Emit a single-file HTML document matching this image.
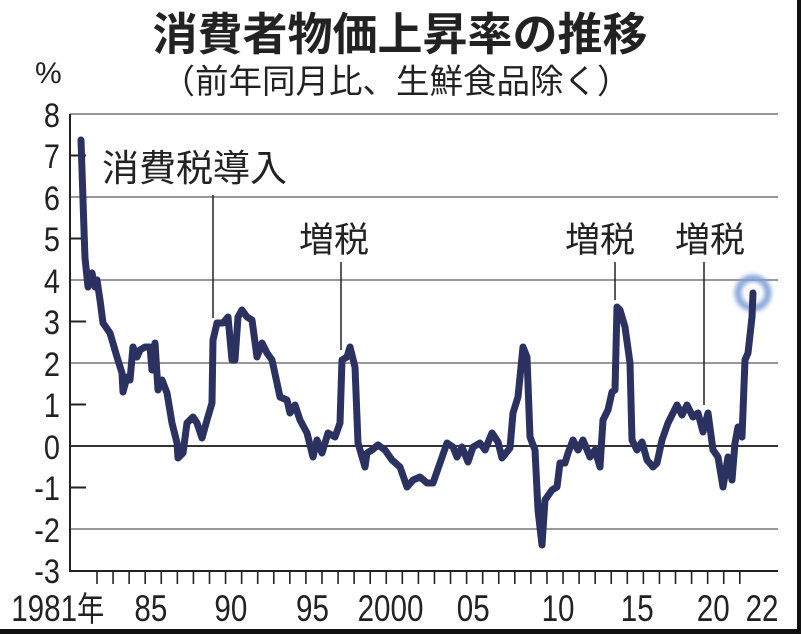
<!DOCTYPE html>
<html><head><meta charset="utf-8"><style>
html,body{margin:0;padding:0;background:#fff;}
svg{display:block;}
text{font-family:"Liberation Sans","Noto Sans CJK JP",sans-serif;fill:#222;}
.j{font-family:"Noto Sans CJK JP",sans-serif;}
</style></head><body>
<svg width="801" height="634" viewBox="0 0 801 634" xmlns="http://www.w3.org/2000/svg">
<defs><filter id="bl" x="-50%" y="-50%" width="200%" height="200%"><feGaussianBlur stdDeviation="2"/></filter></defs>
<rect width="801" height="634" fill="#fff"/>
<rect x="0" y="629" width="801" height="5" fill="#111"/>
<rect x="797" y="0" width="4" height="634" fill="#111"/>
<text class="j" x="400" y="50" text-anchor="middle" font-size="45" font-weight="bold">消費者物価上昇率の推移</text>
<text class="j" x="396" y="93" text-anchor="middle" font-size="33.5">（前年同月比、生鮮食品除く）</text>
<text x="35" y="83" font-size="30">%</text>
<g stroke="#999" stroke-width="2">
<line x1="70" y1="114" x2="778" y2="114"/>
<line x1="70" y1="197" x2="778" y2="197"/>
<line x1="70" y1="280" x2="778" y2="280"/>
<line x1="70" y1="363" x2="778" y2="363"/>
<line x1="70" y1="529" x2="778" y2="529"/>
</g>
<line x1="70" y1="446" x2="778" y2="446" stroke="#333" stroke-width="2"/>
<g stroke="#222" stroke-width="2">
<line x1="70" y1="114" x2="70" y2="572"/>
<line x1="70" y1="571" x2="778" y2="571"/>
<line x1="70" y1="155.5" x2="86" y2="155.5"/><line x1="70" y1="238.5" x2="86" y2="238.5"/>
<line x1="70" y1="321.5" x2="86" y2="321.5"/><line x1="70" y1="404.5" x2="86" y2="404.5"/>
<line x1="70" y1="487.5" x2="86" y2="487.5"/>
</g>
<g stroke="#222" stroke-width="1.6" id="xt"></g>
<g font-size="34" text-anchor="end" transform="translate(60,0) scale(0.85,1)">
<text x="0" y="127">8</text><text x="0" y="168">7</text><text x="0" y="210">6</text><text x="0" y="251">5</text>
<text x="0" y="293">4</text><text x="0" y="334">3</text><text x="0" y="376">2</text><text x="0" y="417">1</text>
<text x="0" y="459">0</text><text x="0" y="500">-1</text><text x="0" y="542">-2</text><text x="0" y="583">-3</text>
</g>
<g font-size="37" transform="scale(0.8,1)">
<text x="14" y="621">1981<tspan class="j" font-size="34">年</tspan></text>
<text x="168" y="621">85</text><text x="268" y="621">90</text><text x="370" y="621">95</text>
<text x="447" y="621">2000</text><text x="571" y="621">05</text><text x="677" y="621">10</text>
<text x="776" y="621">15</text><text x="871" y="621">20</text><text x="932" y="621">22</text>
</g>
<g stroke="#222" stroke-width="1.5">
<line x1="213" y1="195" x2="213" y2="318"/>
<line x1="341" y1="262" x2="341" y2="350"/>
<line x1="615" y1="262" x2="615" y2="300"/>
<line x1="704" y1="262" x2="704" y2="405"/>
</g>
<text class="j" x="102" y="181" font-size="37">消費税導入</text>
<text class="j" x="299" y="252" font-size="35">増税</text>
<text class="j" x="565" y="252" font-size="35">増税</text>
<text class="j" x="675" y="252" font-size="35">増税</text>
<circle cx="753" cy="293" r="15" fill="none" stroke="#7f9fd8" stroke-width="7" filter="url(#bl)" opacity="0.9"/>
<polyline fill="none" stroke="#2b3262" stroke-width="7" stroke-linejoin="round" stroke-linecap="round" points="
81,140 84,230 85,258 88,287 92,273 95,287 97,280 100,300 103,323 110,333 117,357 122,373 123,392 127,377 130,380 133,347 137,357 140,350 145,347 150,347 152,370 155,343 158,390 162,380 167,393 172,423 177,443 178,458 183,453 187,423 193,417 197,423 202,438 207,420 212,403 213,340 217,323 223,323 228,317 232,360 235,360 238,317 242,310 247,317 252,320 257,357 262,343 267,353 272,360 277,383 280,397 287,400 290,413 295,405 300,420 307,433 313,457 317,440 322,453 328,433 335,437 340,423 342,360 347,357 350,347 355,367 358,443 365,467 367,453 372,450 378,445 385,450 392,460 400,467 407,487 413,480 420,477 427,483 433,483 440,463 447,443 453,447 457,457 462,447 468,462 473,447 480,443 485,450 492,433 498,442 502,458 510,448 513,413 518,397 523,347 527,357 530,437 535,450 538,510 542,545 545,500 552,490 557,487 560,463 565,463 568,453 573,440 578,450 583,440 590,457 595,450 600,467 603,420 608,410 612,392 615,390 617,307 620,310 625,327 630,363 632,440 637,450 642,442 647,460 653,467 657,463 662,440 668,423 677,405 682,415 687,405 693,417 698,413 703,432 708,413 713,450 718,457 723,487 728,457 732,480 735,443 738,427 742,437 745,360 748,353 752,317 753,293"/>
</svg>
<script>
var g=document.getElementById('xt'),s='';
for(var i=0;i<=40;i++){var x=97+i*16.07;s+='<line x1="'+x+'" y1="571" x2="'+x+'" y2="584"/>';}
g.innerHTML=s;
</script>
</body></html>
